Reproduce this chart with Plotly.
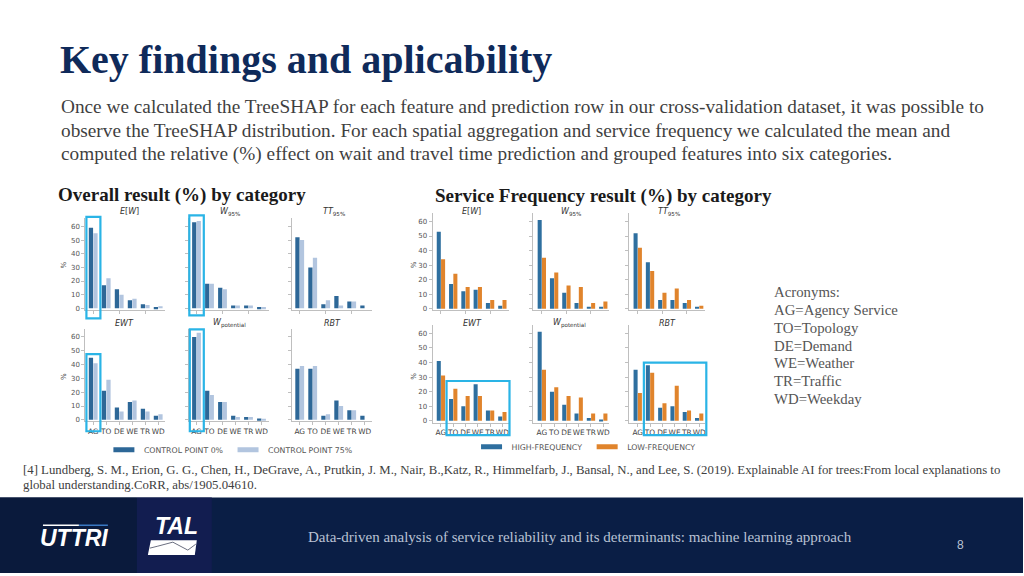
import plotly.graph_objects as go

W, H = 1024, 576

categories = ["AG", "TO", "DE", "WE", "TR", "WD"]
yticks = [0, 10, 20, 30, 40, 50, 60]

# ---- Overall result (%) by category ----
ew_cp0 = [59, 17, 14, 6, 3, 1]
ew_cp75 = [55, 22, 10, 7, 2.5, 1.5]
w95_cp0 = [63, 18, 15, 2, 2, 1]
w95_cp75 = [64, 18, 14, 2, 2, 1]
tt95_cp0 = [52, 30, 3, 9, 5, 2]
tt95_cp75 = [50, 37, 6, 2, 5, 0]
ewt_cp0 = [45, 21, 9, 13, 8, 3]
ewt_cp75 = [41, 29, 6, 14, 6, 4]
wpot_cp0 = [60, 21, 13, 3, 2, 1]
wpot_cp75 = [63, 18, 13, 2, 2, 0.5]
rbt_cp0 = [37, 37, 3, 14, 7, 3]
rbt_cp75 = [39, 39, 4, 10, 7, 0]

# ---- Service Frequency result (%) by category ----
ew_high = [53, 17, 12, 13, 4, 2]
ew_low = [34, 24, 15, 15, 6, 6]
w95_high = [61, 21, 11, 4, 1, 1]
w95_low = [35, 25, 16, 15, 4, 5]
tt95_high = [52, 32, 6, 6, 4, 1]
tt95_low = [42, 26, 11, 14, 6, 2]
ewt_high = [41, 15, 10, 25, 7, 3]
ewt_low = [31, 22, 17, 17, 7, 6]
wpot_high = [61, 20, 11, 5, 2, 1]
wpot_low = [35, 23, 17, 16, 5, 5]
rbt_high = [35, 38, 9, 10, 6, 2]
rbt_low = [19, 33, 12, 24, 7, 5]

panel_titles = ["<i>E</i>[<i>W</i>]", "<i>W</i><sub>95%</sub>", "<i>TT</i><sub>95%</sub>",
                "<i>EWT</i>", "<i>W</i><sub>potential</sub>", "<i>RBT</i>"]

left_series = [(ew_cp0, ew_cp75), (w95_cp0, w95_cp75), (tt95_cp0, tt95_cp75),
               (ewt_cp0, ewt_cp75), (wpot_cp0, wpot_cp75), (rbt_cp0, rbt_cp75)]
right_series = [(ew_high, ew_low), (w95_high, w95_low), (tt95_high, tt95_low),
                (ewt_high, ewt_low), (wpot_high, wpot_low), (rbt_high, rbt_low)]

left_names = ("CONTROL POINT 0%", "CONTROL POINT 75%")
right_names = ("HIGH-FREQUENCY", "LOW-FREQUENCY")
left_colors = ("#2d6797", "#b2c5df")
right_colors = ("#2e6f9f", "#e0842c")

def X(px):
    return px / W

def Y(py):
    return 1 - py / H

YR = [-1.2, 66]
left_cols = [(85.5, 165.5), (188.9, 268.9), (292.2, 372.2)]
left_rows = [(219.4, 311.6), (330.4, 423.7)]
right_cols = [(433, 509), (534, 610), (630, 706)]
right_rows = [(213.9, 312.1), (326.2, 424.8)]
left_xr = [-0.6, 5.55]
right_xr = [-0.68, 5.5]

fig = go.Figure()
layout_axes = {}
axis_idx = 0
sans = "DejaVu Sans"
tick_font = dict(family=sans, size=7, color="#555555")

groups = [
    (left_series, left_cols, left_rows, left_xr, left_names, left_colors, "legend"),
    (right_series, right_cols, right_rows, right_xr, right_names, right_colors, "legend2"),
]

for series, cols, rows, xr, names, colors, leg in groups:
    for p, (a, b) in enumerate(series):
        axis_idx += 1
        r, c = divmod(p, 3)
        xn = "x" if axis_idx == 1 else f"x{axis_idx}"
        yn = "y" if axis_idx == 1 else f"y{axis_idx}"
        for vals, nm, col in ((a, names[0], colors[0]), (b, names[1], colors[1])):
            fig.add_trace(go.Bar(
                x=categories, y=vals, name=nm, marker=dict(color=col, line=dict(width=0)),
                xaxis=xn, yaxis=yn, showlegend=False, legendgroup=nm + leg,
            ))
        if p == 0:
            # legend entries drawn as wide flat swatches, like the original figure
            for nm, col in zip(names, colors):
                fig.add_trace(go.Scatter(
                    x=[None], y=[None], mode="markers", name=nm, legend=leg, legendgroup=nm + leg,
                    marker=dict(symbol="line-ew-open", size=15, color=col, line=dict(color=col, width=5)),
                    xaxis=xn, yaxis=yn, showlegend=True, hoverinfo="skip",
                ))
        x0, x1 = cols[c]
        yt, yb = rows[r]
        xkey = "xaxis" if axis_idx == 1 else f"xaxis{axis_idx}"
        ykey = "yaxis" if axis_idx == 1 else f"yaxis{axis_idx}"
        layout_axes[xkey] = dict(
            domain=[X(x0), X(x1)], anchor=yn, range=xr, type="category",
            showline=True, linecolor="#bfbfbf", linewidth=1, showgrid=False, zeroline=False,
            ticks="outside", ticklen=3, tickcolor="#bfbfbf", tickangle=0,
            showticklabels=(r == 1), tickfont=dict(family=sans, size=7.4, color="#444444"),
            categoryorder="array", categoryarray=categories, fixedrange=True,
        )
        layout_axes[ykey] = dict(
            domain=[Y(yb), Y(yt)], anchor=xn, range=YR, tickvals=yticks,
            showline=True, linecolor="#bfbfbf", linewidth=1, showgrid=False, zeroline=False,
            ticks="outside", ticklen=3, tickcolor="#bfbfbf",
            showticklabels=(c == 0), tickfont=tick_font, fixedrange=True,
        )

fig.update_layout(**layout_axes)

annotations = []

def text(x, y, s, size, color, family="Liberation Serif", xanchor="left", bold=False, **kw):
    if bold:
        s = f"<b>{s}</b>"
    annotations.append(dict(x=X(x), y=Y(y), xref="paper", yref="paper", text=s, showarrow=False,
                            xanchor=xanchor, yanchor="middle",
                            font=dict(family=family, size=size, color=color), **kw))

# Slide title and body
text(58, 60, "Key findings and aplicability", 40, "#0f2a5a", bold=True)
body = [
    "Once we calculated the TreeSHAP for each feature and prediction row in our cross-validation dataset, it was possible to",
    "observe the TreeSHAP distribution. For each spatial aggregation and service frequency we calculated the mean and",
    "computed the relative (%) effect on wait and travel time prediction and grouped features into six categories.",
]
for i, line in enumerate(body):
    text(59, 107 + 24 * i, line, 19.3, "#3f3f3f")

text(56, 196, "Overall result (%) by category", 19, "#1a1a1a", bold=True)
text(433, 197, "Service Frequency result (%) by category", 19, "#1a1a1a", bold=True)

# Panel titles
title_pos_left = [(130, 213), (230, 213), (334, 213), (125, 325), (230, 325), (333, 325)]
title_pos_right = [(472, 213), (572, 213), (670, 213), (473, 325), (570, 325), (668, 325)]
for (x, y), t in zip(title_pos_left, panel_titles):
    text(x, y, t, 8, "#333333", family=sans, xanchor="center")
for (x, y), t in zip(title_pos_right, panel_titles):
    text(x, y, t, 8, "#333333", family=sans, xanchor="center")

# "%" axis labels
for (x, y) in [(64, 266), (64, 378), (414, 266), (414, 378)]:
    text(x, y, "%", 7, "#444444", family=sans, xanchor="center", textangle=-90)

# Acronyms
acr = ["Acronyms:", "AG=Agency Service", "TO=Topology", "DE=Demand", "WE=Weather", "TR=Traffic", "WD=Weekday"]
for i, a in enumerate(acr):
    text(773, 294 + 17.8 * i, a, 14.8, "#555555")

# Reference
text(21, 472, "[4] Lundberg, S. M., Erion, G. G., Chen, H., DeGrave, A., Prutkin, J. M., Nair, B.,Katz, R., Himmelfarb, J., Bansal, N., and Lee, S. (2019). Explainable AI for trees:From local explanations to", 12.8, "#404040")
text(21, 488, "global understanding.CoRR, abs/1905.04610.", 12.8, "#404040")

# Footer text
text(581, 540, "Data-driven analysis of service reliability and its determinants: machine learning approach", 15, "#b9c2d4", xanchor="center")
text(961, 548, "8", 12, "#b9c2d4", family="Liberation Sans", xanchor="center")
text(74, 541, "<b><i>UTTRI</i></b>", 23, "#ffffff", family="Liberation Sans", xanchor="center")
text(177, 529, "<b><i>TAL</i></b>", 23, "#ffffff", family="Liberation Sans", xanchor="center")

shapes = []

def rect(x0, y0, x1, y1, fill=None, line=None, lw=0, layer="below"):
    d = dict(type="rect", xref="paper", yref="paper", x0=X(x0), x1=X(x1), y0=Y(y1), y1=Y(y0), layer=layer)
    if fill:
        d["fillcolor"] = fill
    d["line"] = dict(color=line or "rgba(0,0,0,0)", width=lw)
    shapes.append(d)

# footer band
rect(0, 500, 1024, 576, fill="#0a1e45")
rect(0, 500, 137, 576, fill="#0a1a3c")
rect(137, 500, 212, 576, fill="#121d50")
shapes.append(dict(type="line", xref="paper", yref="paper", x0=X(43), x1=X(79), y0=Y(528), y1=Y(528),
                   line=dict(color="#ffffff", width=1.5)))
shapes.append(dict(type="line", xref="paper", yref="paper", x0=X(79), x1=X(108), y0=Y(528), y1=Y(528),
                   line=dict(color="#3a78c2", width=1.5)))

def P(px, py):
    return f"{X(px)},{Y(py)}"

shapes.append(dict(type="path", xref="paper", yref="paper",
                   path=f"M{P(151,543)} L{P(197,543)} L{P(195,558)} L{P(148,558)} Z",
                   fillcolor="#ffffff", line=dict(width=0)))
shapes.append(dict(type="path", xref="paper", yref="paper",
                   path=f"M{P(150,551)} L{P(158,549)} L{P(173,545)} L{P(188,553)} L{P(196,547)}",
                   line=dict(color="#6b6f80", width=1)))

# highlight boxes
cyan = "#2ab4e6"
for (x0, y0, x1, y1) in [(86.5, 218, 100.5, 320), (189.5, 216.5, 204, 317),
                         (86.5, 356, 100.5, 433.5), (190, 331, 204, 433.5),
                         (447, 383, 510, 437.5), (644.5, 364.5, 707, 437.5)]:
    rect(x0, y0, x1, y1, line=cyan, lw=2.2, layer="above")

leg_common = dict(orientation="h", yanchor="middle", xanchor="left", bgcolor="rgba(0,0,0,0)",
                  font=dict(family=sans, size=7.8, color="#555555"),
                  itemsizing="trace", tracegroupgap=0)

fig.update_layout(
    width=W, height=H, margin=dict(l=0, r=0, t=0, b=0),
    paper_bgcolor="#ffffff", plot_bgcolor="rgba(0,0,0,0)",
    barmode="group", bargap=0.3, bargroupgap=0.06,
    annotations=annotations, shapes=shapes,
    legend=dict(x=X(104), y=Y(452), **leg_common),
    legend2=dict(x=X(472), y=Y(449), **leg_common),
)

fig.write_html("out.html", config={"displayModeBar": False},
               post_script="document.body.style.margin='0';document.body.style.overflow='hidden';")
